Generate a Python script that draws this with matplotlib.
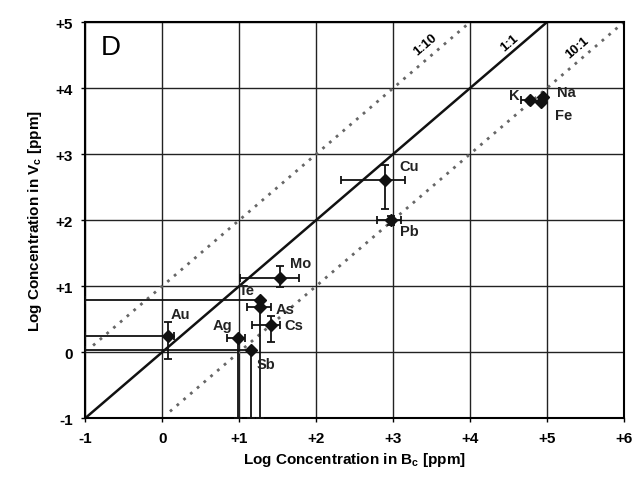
import numpy as np
import matplotlib
matplotlib.use("Agg")
import matplotlib.pyplot as plt

plt.rcParams['font.family'] = ['Liberation Sans', 'DejaVu Sans']
plt.rcParams['mathtext.fontset'] = 'custom'
plt.rcParams['mathtext.bf'] = 'Liberation Sans:bold'
plt.rcParams['mathtext.rm'] = 'Liberation Sans'

# ==== Dados (log ppm) ====
elementos = ["Au", "Ag", "Sb", "Te", "As", "Cs", "Mo", "Cu", "Pb", "K", "Na", "Fe"]
bc = [0.07, 0.99, 1.15, 1.27, 1.27, 1.41, 1.53, 2.90, 2.97, 4.78, 4.95, 4.92]
vc = [0.24, 0.21, 0.03, 0.79, 0.69, 0.41, 1.13, 2.61, 2.00, 3.82, 3.86, 3.79]
# limites das barras de erro (valores absolutos); -1 = fora do grafico
bc_min = [-1.0, 0.84, -1.0, -1.0, 1.10, 1.17, 1.01, 2.33, 2.79, 4.67, 4.95, 4.92]
bc_max = [0.15, 1.08, 1.15, 1.27, 1.42, 1.53, 1.78, 3.15, 3.11, 4.78, 4.95, 4.92]
vc_min = [-0.11, -1.0, -1.0, 0.79, -1.0, 0.15, 0.98, 2.17, 1.93, 3.82, 3.86, 3.79]
vc_max = [0.45, 0.21, 0.03, 0.79, 0.69, 0.55, 1.31, 2.83, 2.07, 3.82, 3.86, 3.79]

# deslocamento dos rotulos (pixels)
rot_dx = [13, -16, 15, -13, 25, 23, 21, 24, 19, -16, 23, 23]
rot_dy = [22, 13, -14, 10, -2, 0, 15, 14, -11, 5, 5, -13]

x_ticks = [-1, 0, 1, 2, 3, 4, 5, 6]
y_ticks = [-1, 0, 1, 2, 3, 4, 5]

def rotulo(v):
    return "+%d" % v if v > 0 else "%d" % v

fig = plt.figure(figsize=(6.42, 4.85), dpi=100)
ax = fig.add_axes([0.133, 0.136, 0.8385, 0.816])

ax.set_xlim(-1, 6)
ax.set_ylim(-1, 5)
ax.set_xticks(x_ticks)
ax.set_yticks(y_ticks)
ax.set_xticklabels([rotulo(v) for v in x_ticks], fontsize=11, fontweight="bold")
ax.set_yticklabels([rotulo(v) for v in y_ticks], fontsize=11, fontweight="bold")
ax.tick_params(length=3, width=1, pad=6)
ax.grid(True, color="#222222", lw=1.0)
ax.set_axisbelow(True)
for s in ax.spines.values():
    s.set_linewidth(1.5)

# linhas de razao
ax.plot([-1, 5], [-1, 5], color="#111111", lw=1.8, zorder=2)
ax.plot([-0.9, 4], [0.1, 5], color="#666666", lw=2.0, ls=(0, (1, 2.2)), zorder=2)
ax.plot([0.1, 6], [-0.9, 5], color="#666666", lw=2.0, ls=(0, (1, 2.2)), zorder=2)
ang = 40.6
ax.text(3.42, 4.67, "1:10", rotation=ang, fontsize=9.5, fontweight="bold", ha="center", va="center")
ax.text(4.52, 4.70, "1:1", rotation=ang, fontsize=9.5, fontweight="bold", ha="center", va="center")
ax.text(5.39, 4.62, "10:1", rotation=ang, fontsize=9.5, fontweight="bold", ha="center", va="center")
ax.text(-0.67, 4.62, "D", fontsize=20, ha="center", va="center")

bc = np.array(bc)
vc = np.array(vc)
xerr = [bc - np.array(bc_min), np.array(bc_max) - bc]
yerr = [vc - np.array(vc_min), np.array(vc_max) - vc]
ax.errorbar(bc, vc, xerr=xerr, yerr=yerr, fmt="D", color="#111111", ms=6.5,
            ecolor="#111111", elinewidth=1.3, capsize=3, capthick=1.3, zorder=3,
            clip_on=True)

for i, nome in enumerate(elementos):
    ax.annotate(nome, (bc[i], vc[i]), xytext=(rot_dx[i], rot_dy[i]),
                textcoords="offset pixels", ha="center", va="center",
                fontsize=10.5, fontweight="bold", color="#222222", zorder=4)

ax.set_xlabel(r"Log Concentration in B$_\mathbf{c}$ [ppm]", fontsize=11, fontweight="bold", labelpad=4)
ax.set_ylabel(r"Log Concentration in V$_\mathbf{c}$ [ppm]", fontsize=11, fontweight="bold", labelpad=8)

fig.savefig("out.png", dpi=100)
